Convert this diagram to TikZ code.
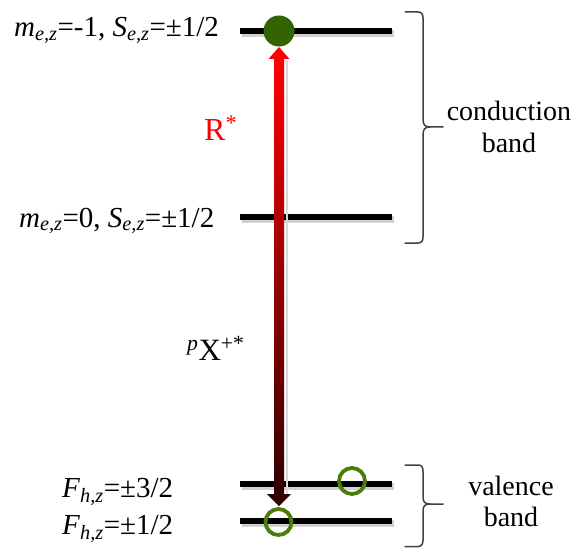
\documentclass[tikz,border=0pt]{standalone}
\usepackage{fontspec}
\setmainfont{Liberation Serif}
\definecolor{elgreen}{RGB}{51,100,0}
\definecolor{holegreen}{RGB}{74,125,10}
\definecolor{arrdark}{RGB}{50,0,0}
\definecolor{arrmid}{RGB}{200,0,0}
\definecolor{bracegray}{RGB}{64,64,64}
\begin{document}
\begin{tikzpicture}[x=1pt,y=-1pt,
  level/.style={line width=6.5pt, draw=black},
  levelshadow/.style={line width=6.5pt, draw=black!18},
  lbl/.style={inner sep=0pt, anchor=base west, font=\fontsize{29}{32}\selectfont},
  bandtxt/.style={inner sep=0pt, anchor=base, font=\fontsize{28}{32}\selectfont},
  bracestyle/.style={line width=1.5pt, draw=bracegray, line cap=round, line join=round},
  hole/.style={circle, draw=holegreen, line width=3.8pt, minimum size=26pt, inner sep=0pt},
  electron/.style={circle, fill=elgreen, minimum size=31pt, inner sep=0pt},
]
\useasboundingbox (0,0) rectangle (577,548);

% level coordinates
\coordinate (l1a) at (240,31);  \coordinate (l1b) at (392,31);
\coordinate (l2a) at (240,217); \coordinate (l2b) at (392,217);
\coordinate (l3a) at (240,484); \coordinate (l3b) at (392,484);
\coordinate (l4a) at (240,521); \coordinate (l4b) at (392,521);

% shadows
\foreach \a/\b in {l1a/l1b,l2a/l2b,l3a/l3b,l4a/l4b}
  \draw[levelshadow] ([shift={(1.5,2.5)}]\a) -- ([shift={(1.5,2.5)}]\b);

% levels
\draw[level] (l1a) -- (l1b);
\draw[level] (l2a) -- (l2b);
\draw[level] (l3a) -- (l3b);
\draw[level] (l4a) -- (l4b);

% arrow
\coordinate (shaftTL) at (274,59);
\coordinate (shaftBR) at (284,494);
\fill[black!15] (286,61) rectangle (288,494);
\shade[top color=red, middle color=arrmid, bottom color=arrdark] (shaftTL) rectangle (shaftBR);
\coordinate (tipUp) at (279,47);
\coordinate (tipDown) at (279,506);
\fill[red] (268.5,59) -- (tipUp) -- (289.5,59) -- cycle;
\fill[arrdark] (267,494) -- (tipDown) -- (291,494) -- cycle;

% electron and holes
\node[electron] (el) at (279,31) {};
\node[hole] (h1) at (352,481) {};
\node[hole] (h2) at (278.5,522) {};

% left labels
\node[lbl] (t1) at (14,37) {\textit{m}\textsubscript{\textit{e,z}}=-1, \textit{S}\textsubscript{\textit{e,z}}=±1/2};
\node[lbl] (t2) at (19,227) {\textit{m}\textsubscript{\textit{e,z}}=0, \textit{S}\textsubscript{\textit{e,z}}=±1/2};
\node[lbl] (t3) at (62,497) {\textit{F}\textsubscript{\textit{h,z}}=±3/2};
\node[lbl] (t4) at (62,534) {\textit{F}\textsubscript{\textit{h,z}}=±1/2};

% transition labels
\node[inner sep=0pt, anchor=base west, text=red, font=\fontsize{32}{36}\selectfont] (rstar) at (204,140) {R\textsuperscript{*}};
\node[inner sep=0pt, anchor=base west, font=\fontsize{31}{34}\selectfont] (pxstar) at (187,360) {\textsuperscript{\textit{p}}X\textsuperscript{+*}};

% braces
\draw[bracestyle] (405,12) -- (418,12) .. controls (421.5,12) and (423,14) .. (423,18)
  -- (423,119) .. controls (423,125) and (425,127) .. (430,127) -- (443,127);
\draw[bracestyle] (430,127) .. controls (425,127) and (423,129) .. (423,135)
  -- (423,237) .. controls (423,241) and (421.5,243) .. (418,243) -- (405,243);
\draw[bracestyle] (405,465) -- (418,465) .. controls (421.5,465) and (423,467) .. (423,471)
  -- (423,497) .. controls (423,502) and (425,504) .. (430,504) -- (443,504);
\draw[bracestyle] (430,504) .. controls (425,504) and (423,506) .. (423,511)
  -- (423,540) .. controls (423,544) and (421.5,546.5) .. (418,546.5) -- (405,546.5);

% band texts
\node[bandtxt] (cb1) at (509,121) {conduction};
\node[bandtxt] (cb2) at (509,153) {band};
\node[bandtxt] (vb1) at (511,495) {valence};
\node[bandtxt] (vb2) at (511,526) {band};
\end{tikzpicture}
\end{document}
